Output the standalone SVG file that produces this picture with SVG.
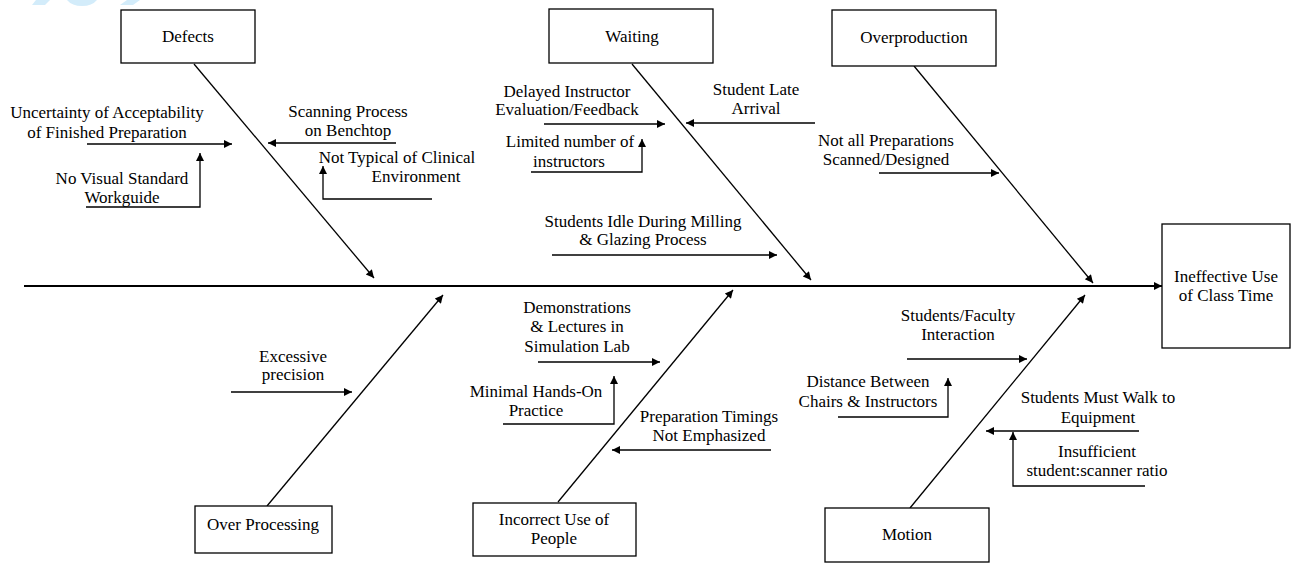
<svg xmlns="http://www.w3.org/2000/svg" width="1292" height="566" viewBox="0 0 1292 566" font-family="'Liberation Serif', 'Times New Roman', serif">
<style>
text{font-family:"Liberation Serif","Times New Roman",serif;font-size:17px;fill:#000;text-anchor:middle}
.box{fill:#fff;stroke:#000;stroke-width:1.3}
.ln{fill:none;stroke:#000;stroke-width:1.3}
.sp{fill:none;stroke:#000;stroke-width:2}
.wm{fill:#d3ecfa}
</style>
<defs>
<marker id="ah" viewBox="0 0 10 10" refX="10" refY="5" markerWidth="10" markerHeight="8" markerUnits="userSpaceOnUse" orient="auto">
<path d="M0,0 L10,5 L0,10 Z" fill="#000"/>
</marker>
</defs>
<rect width="1292" height="566" fill="#fff"/>
<g id="watermark">
<path class="wm" d="M36,0 L50,0 L45,5 L32,5 Z"/>
<path class="wm" d="M67,0 L97,0 Q92,6 82,6 Q72,6 67,0 Z"/>
<path class="wm" d="M127,0 L140,0 L133,5 L120,5 Z"/>
</g>
<g id="connectors">
<line class="sp" x1="24" y1="286" x2="1162" y2="286" marker-end="url(#ah)"/>
<line class="ln" x1="194" y1="64" x2="374" y2="278" marker-end="url(#ah)"/>
<line class="ln" x1="632" y1="64" x2="811" y2="280" marker-end="url(#ah)"/>
<line class="ln" x1="914" y1="66" x2="1093" y2="283" marker-end="url(#ah)"/>
<line class="ln" x1="267" y1="506" x2="443" y2="295" marker-end="url(#ah)"/>
<line class="ln" x1="558" y1="502" x2="733" y2="290" marker-end="url(#ah)"/>
<line class="ln" x1="910" y1="508" x2="1085" y2="295" marker-end="url(#ah)"/>
<line class="ln" x1="87" y1="144" x2="232" y2="144" marker-end="url(#ah)"/>
<path class="ln" d="M86,207 H200 V153" marker-end="url(#ah)"/>
<line class="ln" x1="396" y1="143" x2="268" y2="143" marker-end="url(#ah)"/>
<path class="ln" d="M432,199 H323 V166" marker-end="url(#ah)"/>
<line class="ln" x1="544" y1="124" x2="665" y2="124" marker-end="url(#ah)"/>
<path class="ln" d="M531,172 H642 V139" marker-end="url(#ah)"/>
<line class="ln" x1="815" y1="123" x2="686" y2="123" marker-end="url(#ah)"/>
<line class="ln" x1="552" y1="255" x2="777" y2="255" marker-end="url(#ah)"/>
<line class="ln" x1="879" y1="173" x2="999" y2="173" marker-end="url(#ah)"/>
<line class="ln" x1="231" y1="392" x2="352" y2="392" marker-end="url(#ah)"/>
<line class="ln" x1="538" y1="362" x2="660" y2="362" marker-end="url(#ah)"/>
<path class="ln" d="M503,424 H614 V376" marker-end="url(#ah)"/>
<line class="ln" x1="771" y1="450" x2="612" y2="450" marker-end="url(#ah)"/>
<line class="ln" x1="907" y1="359" x2="1027" y2="359" marker-end="url(#ah)"/>
<path class="ln" d="M838,417 H948 V378" marker-end="url(#ah)"/>
<line class="ln" x1="1139" y1="431" x2="986" y2="431" marker-end="url(#ah)"/>
<path class="ln" d="M1145,486 H1013 V432" marker-end="url(#ah)"/>
</g>
<g id="defects"><rect class="box" x="121" y="10" width="134" height="53"/><text x="188" y="42">Defects</text></g>
<g id="waiting"><rect class="box" x="549" y="9" width="164" height="54"/><text x="632" y="42">Waiting</text></g>
<g id="overproduction"><rect class="box" x="832" y="10" width="164" height="56"/><text x="914" y="43">Overproduction</text></g>
<g id="effect"><rect class="box" x="1162" y="224" width="128" height="124"/><text x="1226" y="282">Ineffective Use</text><text x="1226" y="301">of Class Time</text></g>
<g id="over-processing"><rect class="box" x="195" y="506" width="137" height="47"/><text x="263" y="530">Over Processing</text></g>
<g id="incorrect-use"><rect class="box" x="473" y="503" width="163" height="53"/><text x="554" y="525">Incorrect Use of</text><text x="554" y="544">People</text></g>
<g id="motion"><rect class="box" x="825" y="508" width="164" height="54"/><text x="907" y="540">Motion</text></g>
<g id="cause-uncertainty"><text x="107" y="118">Uncertainty of Acceptability</text><text x="107" y="138">of Finished Preparation</text></g>
<g id="cause-visual"><text x="122" y="184">No Visual Standard</text><text x="122" y="203">Workguide</text></g>
<g id="cause-scanning"><text x="348" y="117">Scanning Process</text><text x="348" y="136">on Benchtop</text></g>
<g id="cause-typical"><text x="397" y="163">Not Typical of Clinical</text><text x="416" y="182">Environment</text></g>
<g id="cause-delayed"><text x="567" y="97">Delayed Instructor</text><text x="567" y="115">Evaluation/Feedback</text></g>
<g id="cause-limited"><text x="570" y="147">Limited number of</text><text x="569" y="167">instructors</text></g>
<g id="cause-late"><text x="756" y="95">Student Late</text><text x="756" y="114">Arrival</text></g>
<g id="cause-idle"><text x="643" y="227">Students Idle During Milling</text><text x="643" y="245">&amp; Glazing Process</text></g>
<g id="cause-notall"><text x="886" y="146">Not all Preparations</text><text x="886" y="165">Scanned/Designed</text></g>
<g id="cause-excessive"><text x="293" y="362">Excessive</text><text x="293" y="380">precision</text></g>
<g id="cause-demo"><text x="577" y="313">Demonstrations</text><text x="577" y="332">&amp; Lectures in</text><text x="577" y="352">Simulation Lab</text></g>
<g id="cause-minimal"><text x="536" y="397">Minimal Hands-On</text><text x="536" y="416">Practice</text></g>
<g id="cause-timings"><text x="709" y="422">Preparation Timings</text><text x="709" y="441">Not Emphasized</text></g>
<g id="cause-interaction"><text x="958" y="321">Students/Faculty</text><text x="958" y="340">Interaction</text></g>
<g id="cause-distance"><text x="868" y="387">Distance Between</text><text x="868" y="407">Chairs &amp; Instructors</text></g>
<g id="cause-walk"><text x="1098" y="403">Students Must Walk to</text><text x="1098" y="423">Equipment</text></g>
<g id="cause-ratio"><text x="1097" y="457">Insufficient</text><text x="1097" y="476">student:scanner ratio</text></g>
</svg>
